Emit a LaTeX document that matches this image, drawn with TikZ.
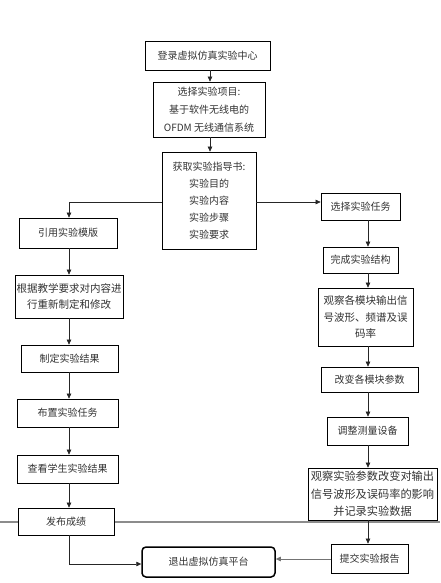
\documentclass[tikz,border=0pt]{standalone}
\usepackage{fontspec}
\newfontfamily\cjk{Noto Sans CJK SC}
\usetikzlibrary{arrows.meta}
\begin{document}
\begin{tikzpicture}[x=1pt,y=-1pt,
  box/.style={draw=black,line width=0.7pt,fill=white,inner sep=1pt,align=center,
    text=black!80,font=\cjk\fontsize{10}{17}\selectfont},
  exitbox/.style={box,rounded corners=4pt,line width=1.5pt},
  arr/.style={-{Triangle[length=5pt,width=4.5pt]},line width=0.6pt,draw=black!85},
  sep/.style={draw=black!45,line width=1.2pt}]
\useasboundingbox (0,0) rectangle (440,583);
\coordinate (lx) at (69,0);
\coordinate (cx) at (210,0);
\coordinate (rx) at (368,0);
\draw[sep] (0,522) -- (440,522);
% centre column
\node[box,minimum width=125pt,minimum height=29pt] (b1) at (207.5,55.5) {登录虚拟仿真实验中心};
\node[box,minimum width=112pt,minimum height=55pt,font=\cjk\fontsize{10}{18}\selectfont] (b2) at (209,109.5) {选择实验项目:\\基于软件无线电的\\OFDM 无线通信系统};
\node[box,minimum width=94pt,minimum height=97pt] (b3) at (209,200.5) {获取实验指导书:\\实验目的\\实验内容\\实验步骤\\实验要求};
% left column
\node[box,minimum width=98pt,minimum height=30pt] (L1) at (68,233) {引用实验模版};
\node[box,minimum width=108pt,minimum height=43pt,font=\cjk\fontsize{10.5}{16}\selectfont] (L2) at (69,296.5) {根据教学要求对内容进\\行重新制定和修改};
\node[box,minimum width=97pt,minimum height=27pt] (L3) at (69.5,358.5) {制定实验结果};
\node[box,minimum width=101pt,minimum height=28pt] (L4) at (67.5,413) {布置实验任务};
\node[box,minimum width=101pt,minimum height=28pt] (L5) at (67.5,469) {查看学生实验结果};
\node[box,minimum width=96pt,minimum height=27pt] (L6) at (66,521.5) {发布成绩};
% right column
\node[box,minimum width=79pt,minimum height=27pt] (R1) at (360.5,206.5) {选择实验任务};
\node[box,minimum width=75pt,minimum height=26pt] (R2) at (360.5,260) {完成实验结构};
\node[box,minimum width=95pt,minimum height=58pt,font=\cjk\fontsize{10.5}{16.5}\selectfont] (R3) at (365.5,317) {观察各模块输出信\\号波形、频谱及误\\码率};
\node[box,minimum width=97pt,minimum height=25pt] (R4) at (369.5,379.5) {改变各模块参数};
\node[box,minimum width=81pt,minimum height=28pt] (R5) at (367.5,431) {调整测量设备};
\node[box,minimum width=129pt,minimum height=52pt,inner sep=0pt,font=\cjk\fontsize{11.2}{17.5}\selectfont] (R6) at (372.5,494) {观察实验参数改变对输出\\信号波形及误码率的影响\\并记录实验数据};
\node[box,minimum width=77pt,minimum height=29pt] (R7) at (369.5,558.5) {提交实验报告};
% exit
\node[exitbox,minimum width=133pt,minimum height=30pt] (ex) at (208.5,562) {退出虚拟仿真平台};
% connectors
\draw[arr] (b1.south -| cx) -- (b2.north -| cx);
\draw[arr] (b2.south -| cx) -- (b3.north -| cx);
\draw[arr] (b3.west |- 0,202) -| (L1.north -| lx);
\draw[arr] (b3.east |- 0,202) -- (R1.west |- 0,202);
\draw[arr] (L1.south -| lx) -- (L2.north -| lx);
\draw[arr] (L2.south -| lx) -- (L3.north -| lx);
\draw[arr] (L3.south -| lx) -- (L4.north -| lx);
\draw[arr] (L4.south -| lx) -- (L5.north -| lx);
\draw[arr] (L5.south -| lx) -- (L6.north -| lx);
\draw[arr] (L6.south -| lx) |- (ex.west |- 0,564);
\draw[arr] (R1.south -| rx) -- (R2.north -| rx);
\draw[arr] (R2.south -| rx) -- (R3.north -| rx);
\draw[arr] (R3.south -| rx) -- (R4.north -| rx);
\draw[arr] (R4.south -| rx) -- (R5.north -| rx);
\draw[arr] (R5.south -| rx) -- (R6.north -| rx);
\draw[arr] (R6.south -| rx) -- (R7.north -| rx);
\draw[arr,draw=black!55] (R7.west |- 0,559) -- (ex.east |- 0,559);
\end{tikzpicture}
\end{document}
